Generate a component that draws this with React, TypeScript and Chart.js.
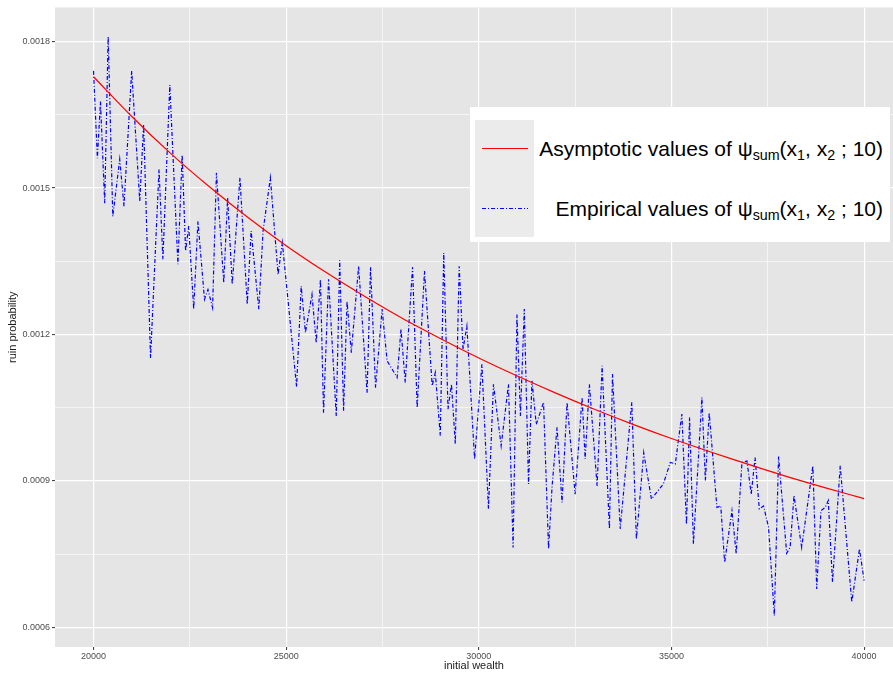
import React, { useEffect, useRef } from "react";
import { Chart, registerables } from "chart.js";

Chart.register(...registerables);

// Asymptotic values (red line)
const ASYM_X = [20000, 21000, 22000, 23000, 24000, 25000, 26000, 27000, 28000, 29000, 30000,
  31000, 32000, 33000, 34000, 35000, 36000, 37000, 38000, 39000, 40000];
const ASYM_Y = [0.001728, 0.001646, 0.001571, 0.001503, 0.00144, 0.001382, 0.001329, 0.00128, 0.001234, 0.001192, 0.001152,
  0.001115, 0.00108, 0.001047, 0.001016, 0.000987, 0.00096, 0.000934, 0.000909, 0.000886, 0.000864];

// Empirical values (blue dot-dash line)
const EMP_X = [
  20000, 20100, 20180, 20290, 20380, 20500, 20680, 20790, 20990, 21200,
  21300, 21480, 21700, 21800, 21980, 22190, 22300, 22390, 22470, 22600,
  22710, 22880, 22970, 23090, 23190, 23380, 23480, 23600, 23800, 23990,
  24090, 24290, 24400, 24590, 24790, 24900, 25270, 25390, 25500, 25670,
  25780, 25890, 25970, 26100, 26300, 26390, 26490, 26580, 26690, 26880,
  27100, 27190, 27320, 27490, 27620, 27880, 27980, 28090, 28280, 28400,
  28590, 28790, 28870, 29000, 29090, 29200, 29290, 29390, 29490, 29590,
  29690, 29890, 30080, 30250, 30380, 30580, 30770, 30890, 30990, 31080,
  31180, 31290, 31380, 31490, 31680, 31810, 31900, 32030, 32160, 32290,
  32500, 32680, 32760, 32870, 33070, 33200, 33390, 33470, 33670, 33970,
  34090, 34280, 34480, 34790, 34970, 35100, 35270, 35390, 35470, 35570,
  35790, 35880, 35980, 36180, 36280, 36380, 36570, 36680, 36830, 36960,
  37070, 37170, 37280, 37390, 37520, 37670, 37780, 37990, 38080, 38180,
  38380, 38670, 38770, 38880, 38990, 39070, 39180, 39380, 39680, 39880,
  40000,
];
const EMP_Y = [
  0.00174, 0.001561, 0.001677, 0.001469, 0.00181, 0.001442, 0.001559, 0.001463, 0.00174, 0.001473,
  0.00163, 0.001152, 0.001538, 0.001354, 0.001711, 0.001344, 0.001568, 0.001371, 0.001422, 0.001252,
  0.001432, 0.001272, 0.001292, 0.001255, 0.001531, 0.001306, 0.00148, 0.001303, 0.001521, 0.001262,
  0.001412, 0.001252, 0.001412, 0.001521, 0.001323, 0.001388, 0.001093, 0.001299, 0.001204, 0.001282,
  0.001183, 0.001313, 0.00104, 0.001313, 0.001033, 0.001352, 0.001044, 0.001268, 0.001163, 0.00134,
  0.001081, 0.001338, 0.001091, 0.001252, 0.001146, 0.001112, 0.001211, 0.001102, 0.001338, 0.00105,
  0.00133, 0.001095, 0.001122, 0.000993, 0.001367, 0.001047, 0.001098, 0.000976, 0.00134, 0.00117,
  0.001217, 0.000945, 0.001139, 0.000843, 0.001098, 0.000972, 0.001098, 0.000764, 0.001241, 0.001033,
  0.001252, 0.000894, 0.001105, 0.001016, 0.001061, 0.000761, 0.000887, 0.00101, 0.000856, 0.001061,
  0.000873, 0.001071, 0.000945, 0.001098, 0.00089, 0.001136, 0.000802, 0.001119, 0.000802, 0.001061,
  0.000781, 0.000958, 0.000863, 0.000894, 0.000938, 0.000935, 0.001037, 0.000811, 0.00103, 0.000771,
  0.001071, 0.000901, 0.00104, 0.000846, 0.000849, 0.000733, 0.000839, 0.000751, 0.000938, 0.000941,
  0.000873, 0.000948, 0.000843, 0.000849, 0.000805, 0.000624, 0.00095, 0.000752, 0.000764, 0.00087,
  0.000764, 0.000931, 0.000679, 0.000839, 0.000846, 0.00086, 0.000693, 0.000931, 0.000652, 0.000761,
  0.000696,
];

// Tick positions: even index = major (labelled), odd index = minor grid line
const X_TICKS = [20000, 22500, 25000, 27500, 30000, 32500, 35000, 37500, 40000];
const X_LABELS = ["20000", "25000", "30000", "35000", "40000"];
const Y_TICKS = [0.0006, 0.00075, 0.0009, 0.00105, 0.0012, 0.00135, 0.0015, 0.00165, 0.0018];
const Y_LABELS = ["0.0006", "0.0009", "0.0012", "0.0015", "0.0018"];

const FONT = "'Liberation Sans', Arial, Helvetica, sans-serif";

const panelBg = {
  id: "panelBg",
  beforeDraw(chart: any) {
    const { ctx, chartArea } = chart;
    if (!chartArea) return;
    ctx.save();
    ctx.fillStyle = "#E5E5E5";
    ctx.fillRect(chartArea.left, chartArea.top, chartArea.right - chartArea.left, chartArea.bottom - chartArea.top);
    ctx.restore();
  },
};

export default function App() {
  const canvasRef = useRef<HTMLCanvasElement | null>(null);

  useEffect(() => {
    if (!canvasRef.current) return;
    const gridCommon = {
      color: "#FFFFFF",
      lineWidth: (c: any) => (c.index % 2 === 0 ? 1.2 : 0.6),
      drawTicks: true,
      tickLength: 3,
      tickWidth: 1,
      tickColor: (c: any) => (c.index % 2 === 0 ? "#333333" : "rgba(0,0,0,0)"),
    };
    const chart = new Chart(canvasRef.current, {
      type: "line",
      data: {
        datasets: [
          {
            label: "Asymptotic",
            data: ASYM_X.map((x, i) => ({ x, y: ASYM_Y[i] })),
            borderColor: "#FF0000",
            borderWidth: 1.2,
            pointRadius: 0,
            tension: 0.3,
            fill: false,
          },
          {
            label: "Empirical",
            data: EMP_X.map((x, i) => ({ x, y: EMP_Y[i] })),
            borderColor: "#0000FF",
            borderWidth: 1.2,
            borderDash: [4, 2, 1, 2],
            pointRadius: 0,
            tension: 0,
            fill: false,
          },
        ],
      },
      options: {
        animation: false,
        responsive: false,
        maintainAspectRatio: false,
        events: [],
        layout: { padding: { top: 6, right: 0, left: 0, bottom: 0 } },
        plugins: {
          legend: { display: false },
          tooltip: { enabled: false },
        },
        scales: {
          x: {
            type: "linear",
            min: 19000,
            max: 40750,
            afterBuildTicks: (scale: any) => {
              scale.ticks = X_TICKS.map((v) => ({ value: v }));
            },
            afterFit: (scale: any) => {
              scale.height = 26;
            },
            border: { display: false },
            grid: gridCommon,
            ticks: {
              autoSkip: false,
              maxRotation: 0,
              padding: 1,
              color: "#4D4D4D",
              font: { family: FONT, size: 9 },
              callback: (_v: any, i: number) => (i % 2 === 0 ? X_LABELS[i / 2] : ""),
            },
            title: {
              display: true,
              text: "initial wealth",
              color: "#1A1A1A",
              font: { family: FONT, size: 11 },
              padding: { top: 0, bottom: 0 },
            },
          },
          y: {
            type: "linear",
            min: 0.00056,
            max: 0.00187,
            afterBuildTicks: (scale: any) => {
              scale.ticks = Y_TICKS.map((v) => ({ value: v }));
            },
            afterFit: (scale: any) => {
              scale.width = 55;
            },
            border: { display: false },
            grid: gridCommon,
            ticks: {
              autoSkip: false,
              padding: 2,
              color: "#4D4D4D",
              font: { family: FONT, size: 9 },
              callback: (_v: any, i: number) => (i % 2 === 0 ? Y_LABELS[i / 2] : ""),
            },
            title: {
              display: true,
              text: "ruin probability",
              color: "#1A1A1A",
              font: { family: FONT, size: 11 },
              padding: { top: 6, bottom: 0 },
            },
          },
        },
      },
      plugins: [panelBg],
    } as any);
    return () => chart.destroy();
  }, []);

  const legendText: React.CSSProperties = {
    position: "absolute",
    right: 7,
    fontFamily: FONT,
    fontSize: 21,
    color: "#000",
    whiteSpace: "nowrap",
    lineHeight: "24px",
  };
  const sub: React.CSSProperties = { fontSize: "0.68em", verticalAlign: "-0.28em", lineHeight: 0 };

  return (
    <div style={{ position: "absolute", left: 0, top: 0, width: 893, height: 673, background: "#FFFFFF", overflow: "hidden" }}>
      <canvas ref={canvasRef} width={893} height={673} style={{ width: 893, height: 673, display: "block" }} />
      <div
        style={{
          position: "absolute",
          left: 470,
          top: 107,
          width: 420,
          height: 135,
          background: "#FFFFFF",
        }}
      >
        <div style={{ position: "absolute", left: 5, top: 13, width: 59, height: 117, background: "#EBEBEB" }} />
        <svg style={{ position: "absolute", left: 0, top: 0 }} width={70} height={135}>
          <line x1={12} y1={41.5} x2={58} y2={41.5} stroke="#FF0000" strokeWidth={1.2} />
          <line x1={12} y1={101.5} x2={58} y2={101.5} stroke="#0000FF" strokeWidth={1.2} strokeDasharray="4 2 1 2" />
        </svg>
        <div style={{ ...legendText, top: 30 }}>
          Asymptotic values of ψ<span style={sub}>sum</span>(x<span style={sub}>1</span>, x<span style={sub}>2</span> ; 10)
        </div>
        <div style={{ ...legendText, top: 90 }}>
          Empirical values of ψ<span style={sub}>sum</span>(x<span style={sub}>1</span>, x<span style={sub}>2</span> ; 10)
        </div>
      </div>
    </div>
  );
}
